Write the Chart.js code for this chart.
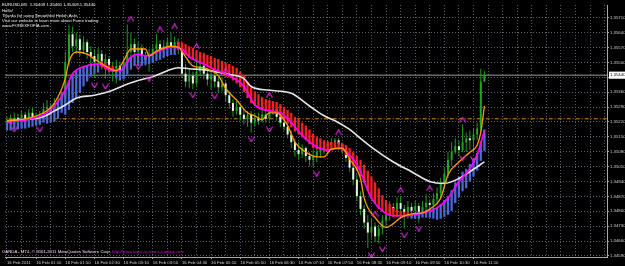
<!DOCTYPE html>
<html><head><meta charset="utf-8">
<script src="https://cdn.jsdelivr.net/npm/chart.js"></script>
<style>
html,body{margin:0;padding:0;background:#000;width:625px;height:266px;overflow:hidden}
#wrap{position:relative;width:625px;height:266px;background:#000}
canvas{position:absolute;left:0;top:0}
.t{position:absolute;font-family:"Liberation Sans",Arial,sans-serif;font-size:4.3px;line-height:5px;color:#f2f2f2;white-space:nowrap}
</style></head><body>
<div id="wrap"><canvas id="c" width="625" height="266"></canvas>
<div class="t" style="left:2px;top:1.5px">EURUSD,M5&nbsp; 1.35409 1.35460 1.35409 1.35440</div>
<div class="t" style="left:2px;top:7.5px">Hello!</div>
<div class="t" style="left:2px;top:13.2px">Thanks for using Smoothed Heikin Ashi.</div>
<div class="t" style="left:2px;top:18.3px">Visit our website to learn more about Forex trading:</div>
<div class="t" style="left:2px;top:23.3px">www.FOREXFOFIA.com</div>
<div class="t" style="left:2px;top:248.5px;color:#f4d8f4">OANDA - MT4, © 2001-2011 MetaQuotes Software Corp.<span style="color:#e000e0">&nbsp;http://www.forex-systems-trading.com</span></div>
</div>
<script>
// ---- categories / ticks ----
const xTickLabels = ['16 Feb 2011','16 Feb 01:10','16 Feb 01:50','16 Feb 02:30','16 Feb 03:10','16 Feb 03:50','16 Feb 04:30','16 Feb 05:10','16 Feb 05:50','16 Feb 06:30','16 Feb 07:10','16 Feb 07:50','16 Feb 08:30','16 Feb 09:10','16 Feb 09:50','16 Feb 10:30','16 Feb 11:10'];
const yTickValues = [1.34590,1.34660,1.34730,1.34800,1.34870,1.34940,1.35010,1.35080,1.35150,1.35220,1.35290,1.35360,1.35430,1.35500,1.35570,1.35640,1.35710];
const bidPrice = 1.35440;
const levelPrice = 1.35235;

// ---- candles (M5 bars) ----
const openP = [1.35208,1.35226,1.35212,1.35240,1.35231,1.35254,1.35235,1.35263,1.35244,1.35226,
1.35254,1.35281,1.35291,1.35272,1.35309,1.35295,1.35332,1.35503,1.35632,1.35576,
1.35609,1.35558,1.35595,1.35549,1.35530,1.35503,1.35540,1.35493,1.35516,1.35475,
1.35457,1.35484,1.35447,1.35503,1.35549,1.35586,1.35549,1.35567,1.35530,1.35512,
1.35540,1.35563,1.35586,1.35558,1.35576,1.35595,1.35576,1.35595,1.35563,1.35447,
1.35410,1.35438,1.35401,1.35457,1.35484,1.35447,1.35420,1.35438,1.35410,1.35383,
1.35401,1.35346,1.35309,1.35272,1.35291,1.35254,1.35235,1.35254,1.35217,1.35240,
1.35226,1.35254,1.35235,1.35272,1.35281,1.35244,1.35217,1.35198,1.35161,1.35125,
1.35088,1.35069,1.35097,1.35060,1.35042,1.35056,1.35079,1.35088,1.35106,1.35115,
1.35125,1.35134,1.35115,1.35088,1.35051,1.35005,1.34949,1.34871,1.34811,1.34747,
1.34700,1.34728,1.34682,1.34719,1.34756,1.34783,1.34820,1.34802,1.34839,1.34811,
1.34793,1.34820,1.34802,1.34825,1.34793,1.34820,1.34839,1.34830,1.34857,1.34885,
1.34930,1.34977,1.35042,1.35079,1.35106,1.35088,1.35125,1.35143,1.35134,1.35161,
1.35189,1.35409];
const highP = [1.35244,1.35254,1.35263,1.35258,1.35272,1.35268,1.35281,1.35286,1.35263,1.35272,
1.35309,1.35323,1.35309,1.35332,1.35337,1.35364,1.35549,1.35678,1.35669,1.35641,
1.35632,1.35622,1.35609,1.35576,1.35563,1.35567,1.35558,1.35539,1.35530,1.35503,
1.35512,1.35503,1.35530,1.35678,1.35641,1.35613,1.35595,1.35586,1.35549,1.35563,
1.35586,1.35632,1.35604,1.35604,1.35618,1.35641,1.35622,1.35613,1.35586,1.35493,
1.35466,1.35457,1.35549,1.35512,1.35503,1.35466,1.35457,1.35457,1.35429,1.35433,
1.35410,1.35364,1.35327,1.35318,1.35309,1.35281,1.35272,1.35272,1.35263,1.35263,
1.35281,1.35291,1.35318,1.35309,1.35300,1.35263,1.35235,1.35217,1.35180,1.35143,
1.35125,1.35115,1.35106,1.35079,1.35088,1.35097,1.35115,1.35125,1.35134,1.35143,
1.35143,1.35143,1.35125,1.35106,1.35069,1.35023,1.34977,1.34894,1.34830,1.34783,
1.34765,1.34747,1.34737,1.34783,1.34811,1.34848,1.34839,1.34866,1.34871,1.34830,
1.34848,1.34839,1.34848,1.34839,1.34848,1.34880,1.34857,1.34885,1.34913,1.34958,
1.35005,1.35079,1.35125,1.35143,1.35134,1.35208,1.35171,1.35180,1.35189,1.35217,
1.35470,1.35460];
const lowP = [1.35194,1.35198,1.35203,1.35212,1.35221,1.35221,1.35226,1.35231,1.35212,1.35203,
1.35244,1.35263,1.35254,1.35263,1.35281,1.35286,1.35318,1.35484,1.35549,1.35539,
1.35530,1.35539,1.35516,1.35484,1.35429,1.35475,1.35466,1.35424,1.35447,1.35410,
1.35401,1.35420,1.35433,1.35484,1.35530,1.35507,1.35521,1.35493,1.35484,1.35457,
1.35516,1.35539,1.35530,1.35539,1.35558,1.35549,1.35558,1.35539,1.35429,1.35383,
1.35378,1.35374,1.35392,1.35438,1.35420,1.35392,1.35374,1.35383,1.35355,1.35364,
1.35318,1.35281,1.35244,1.35254,1.35226,1.35208,1.35198,1.35171,1.35198,1.35208,
1.35217,1.35217,1.35226,1.35254,1.35226,1.35198,1.35180,1.35143,1.35097,1.35056,
1.35042,1.35051,1.35032,1.35014,1.35009,1.35032,1.35051,1.35069,1.35078,1.35088,
1.35097,1.35088,1.35069,1.35032,1.34986,1.34922,1.34848,1.34783,1.34719,1.34627,
1.34673,1.34654,1.34650,1.34691,1.34728,1.34756,1.34774,1.34783,1.34793,1.34719,
1.34765,1.34774,1.34783,1.34747,1.34774,1.34802,1.34802,1.34811,1.34830,1.34857,
1.34903,1.34959,1.35014,1.35069,1.35065,1.35078,1.35078,1.35088,1.35078,1.35134,
1.35171,1.35409];
const closeP = [1.35226,1.35212,1.35240,1.35231,1.35254,1.35235,1.35263,1.35244,1.35226,1.35254,
1.35281,1.35291,1.35272,1.35309,1.35295,1.35332,1.35503,1.35632,1.35576,1.35609,
1.35558,1.35595,1.35549,1.35530,1.35503,1.35540,1.35493,1.35516,1.35475,1.35457,
1.35484,1.35447,1.35503,1.35549,1.35586,1.35549,1.35567,1.35530,1.35512,1.35540,
1.35563,1.35586,1.35558,1.35576,1.35595,1.35576,1.35595,1.35563,1.35447,1.35410,
1.35438,1.35401,1.35457,1.35484,1.35447,1.35420,1.35438,1.35410,1.35383,1.35401,
1.35346,1.35309,1.35272,1.35291,1.35254,1.35235,1.35254,1.35217,1.35240,1.35226,
1.35254,1.35235,1.35272,1.35281,1.35244,1.35217,1.35198,1.35161,1.35125,1.35088,
1.35069,1.35097,1.35060,1.35042,1.35056,1.35079,1.35088,1.35106,1.35115,1.35125,
1.35134,1.35115,1.35088,1.35051,1.35005,1.34949,1.34871,1.34811,1.34747,1.34700,
1.34728,1.34682,1.34719,1.34756,1.34783,1.34820,1.34802,1.34839,1.34811,1.34793,
1.34820,1.34802,1.34825,1.34793,1.34820,1.34839,1.34830,1.34857,1.34885,1.34930,
1.34977,1.35042,1.35079,1.35106,1.35088,1.35125,1.35143,1.35134,1.35161,1.35189,
1.35410,1.35440];

// ---- smoothed Heikin Ashi bodies ----
const haOpen = [1.35180,1.35180,1.35185,1.35185,1.35189,1.35189,1.35194,1.35198,1.35203,1.35208,
1.35217,1.35212,1.35217,1.35221,1.35235,1.35263,1.35254,1.35277,1.35309,1.35332,
1.35360,1.35387,1.35410,1.35433,1.35447,1.35452,1.35507,1.35498,1.35489,1.35484,
1.35424,1.35415,1.35420,1.35443,1.35466,1.35484,1.35484,1.35484,1.35489,1.35493,
1.35498,1.35507,1.35512,1.35521,1.35530,1.35535,1.35535,1.35599,1.35595,1.35586,
1.35576,1.35567,1.35558,1.35549,1.35544,1.35535,1.35530,1.35521,1.35516,1.35507,
1.35498,1.35493,1.35484,1.35475,1.35457,1.35438,1.35410,1.35383,1.35364,1.35350,
1.35337,1.35327,1.35323,1.35318,1.35314,1.35304,1.35291,1.35277,1.35263,1.35244,
1.35231,1.35217,1.35203,1.35185,1.35166,1.35152,1.35143,1.35134,1.35129,1.35125,
1.35125,1.35125,1.35120,1.35111,1.35097,1.35078,1.35060,1.35042,1.35019,1.34991,
1.34963,1.34936,1.34908,1.34876,1.34853,1.34834,1.34816,1.34807,1.34802,1.34797,
1.34797,1.34765,1.34765,1.34765,1.34770,1.34770,1.34770,1.34765,1.34760,1.34765,
1.34774,1.34783,1.34802,1.34839,1.34866,1.34894,1.34908,1.34940,1.34963,1.34991,
1.35037,1.35083];
const haClose = [1.35217,1.35217,1.35221,1.35221,1.35226,1.35226,1.35231,1.35235,1.35240,1.35244,
1.35254,1.35268,1.35281,1.35295,1.35318,1.35355,1.35383,1.35415,1.35447,1.35461,
1.35475,1.35480,1.35484,1.35489,1.35493,1.35489,1.35475,1.35466,1.35457,1.35457,
1.35461,1.35461,1.35484,1.35507,1.35526,1.35539,1.35535,1.35530,1.35530,1.35535,
1.35539,1.35549,1.35553,1.35563,1.35572,1.35572,1.35567,1.35558,1.35549,1.35535,
1.35521,1.35512,1.35503,1.35493,1.35489,1.35480,1.35470,1.35461,1.35452,1.35443,
1.35433,1.35429,1.35415,1.35401,1.35383,1.35360,1.35332,1.35309,1.35295,1.35286,
1.35277,1.35272,1.35268,1.35263,1.35258,1.35244,1.35231,1.35212,1.35194,1.35175,
1.35161,1.35148,1.35134,1.35115,1.35097,1.35092,1.35088,1.35083,1.35083,1.35088,
1.35092,1.35092,1.35083,1.35065,1.35042,1.35014,1.34991,1.34963,1.34936,1.34899,
1.34862,1.34839,1.34811,1.34797,1.34788,1.34779,1.34774,1.34774,1.34774,1.34774,
1.34779,1.34788,1.34793,1.34797,1.34802,1.34807,1.34811,1.34816,1.34820,1.34834,
1.34853,1.34871,1.34899,1.34936,1.34963,1.34986,1.35000,1.35023,1.35046,1.35074,
1.35129,1.35185];

// ---- moving-average style lines (bar index, price) ----
const orangeX = [0,5,10,13,16,17,19,22,24,27,30,32,34,38,39,41,45,47,49,51,54,56,58,60,63,66,68,70,72,74,77,79,82,85,87,89,92,94,97,98,101,104,106,108,111,114,116,119,121,124,127,129,130,131];
const orangeY = [1.35226,1.35235,1.35263,1.35309,1.35424,1.35503,1.35549,1.35539,1.35516,1.35484,1.35461,1.35507,1.35563,1.35563,1.35530,1.35553,1.35576,1.35572,1.35526,1.35484,1.35475,1.35461,1.35438,1.35378,1.35323,1.35263,1.35249,1.35231,1.35263,1.35263,1.35203,1.35125,1.35078,1.35056,1.35056,1.35092,1.35097,1.35046,1.34954,1.34862,1.34770,1.34724,1.34742,1.34770,1.34788,1.34793,1.34811,1.34862,1.34972,1.35032,1.35078,1.35111,1.35171,1.35295];
const magentaX = [0,10,13,16,18,21,25,29,31,34,36,38,41,45,48,50,54,57,61,65,68,72,75,78,81,85,88,91,94,97,98,100,103,106,109,113,116,118,121,124,127,129,131];
const magentaY = [1.35217,1.35254,1.35295,1.35369,1.35447,1.35480,1.35493,1.35461,1.35461,1.35526,1.35539,1.35530,1.35549,1.35572,1.35563,1.35526,1.35493,1.35466,1.35438,1.35387,1.35300,1.35272,1.35263,1.35217,1.35157,1.35102,1.35088,1.35097,1.35065,1.34986,1.34940,1.34862,1.34802,1.34779,1.34779,1.34788,1.34802,1.34816,1.34862,1.34940,1.35000,1.35065,1.35180];
const whiteX = [0,5,10,13,16,19,24,29,32,36,40,44,47,50,54,57,61,65,67,72,78,83,87,90,94,96,100,106,111,116,120,124,127,131];
const whiteY = [1.35226,1.35231,1.35244,1.35272,1.35300,1.35332,1.35346,1.35369,1.35392,1.35415,1.35433,1.35461,1.35475,1.35470,1.35466,1.35457,1.35443,1.35424,1.35387,1.35369,1.35355,1.35295,1.35249,1.35226,1.35185,1.35157,1.35102,1.35032,1.34986,1.34940,1.34931,1.34954,1.34986,1.35032];

// ---- signal arrows ----
const upArrowX = [34,42,46,52,60,72,91,101,108,116,125];
const upArrowY = [1.35705,1.35655,1.35669,1.35576,1.35461,1.35346,1.35171,1.34788,1.34899,1.34908,1.35231];
const downArrowX = [2,9,24,27,36,39,51,57,67,72,85,100,103,109,113,125,128];
const downArrowY = [1.35185,1.35185,1.35392,1.35387,1.35480,1.35424,1.35346,1.35341,1.35138,1.35185,1.34977,1.34594,1.34622,1.34687,1.34719,1.35051,1.35046];

// ---- build ----
const barIdx = openP.map((_, i) => i);
const pts = (xs, ys) => xs.map((x, k) => ({x: x, y: ys[k]}));
function chevron(up) {
  const c = document.createElement('canvas'); c.width = 7; c.height = 6;
  const g = c.getContext('2d'); g.strokeStyle = '#dc22dc'; g.lineWidth = 1.2;
  g.beginPath();
  if (up) { g.moveTo(0.5,5.5); g.lineTo(3.5,0.6); g.lineTo(6.5,5.5); }
  else { g.moveTo(0.5,0.5); g.lineTo(3.5,5.4); g.lineTo(6.5,0.5); }
  g.stroke(); return c;
}
const near = (a, b) => Math.abs(a - b) < 1e-7;
const axisFont = {family: 'Liberation Sans', size: 4.3};

new Chart(document.getElementById('c'), {
  type: 'bar',
  data: { datasets: [
    {type:'scatter', data: pts(upArrowX, upArrowY), pointStyle: chevron(true), pointRadius: 3, order: 0},
    {type:'scatter', data: pts(downArrowX, downArrowY), pointStyle: chevron(false), pointRadius: 3, order: 0},
    {type:'line', data: pts(orangeX, orangeY), borderColor:'#ff9a00', borderWidth:1.3, pointRadius:0, cubicInterpolationMode:'monotone', order: 1},
    {type:'line', data: pts(magentaX, magentaY), borderColor:'#ff00ff', borderWidth:1.7, pointRadius:0, cubicInterpolationMode:'monotone', order: 2},
    {type:'line', data: pts(whiteX, whiteY), borderColor:'#e6e6e6', borderWidth:1.6, pointRadius:0, cubicInterpolationMode:'monotone', order: 3},
    {type:'bar', data: barIdx.map(i => ({x:i, y:[haOpen[i], haClose[i]]})), grouped:false, barThickness:2.3, inflateAmount:0, minBarLength:1,
      backgroundColor: barIdx.map(i => haClose[i] > haOpen[i] ? '#4a68d6' : '#f42020'), order: 4},
    {type:'bar', data: barIdx.map(i => ({x:i, y:[openP[i], closeP[i]]})), grouped:false, barThickness:2, inflateAmount:0, minBarLength:1,
      backgroundColor: barIdx.map(i => closeP[i] < openP[i] ? '#e4f6e4' : '#22a522'), order: 5},
    {type:'bar', data: barIdx.map(i => ({x:i, y:[lowP[i], highP[i]]})), grouped:false, barThickness:1, inflateAmount:0,
      backgroundColor:'#1a9c1a', order: 6},
    {type:'line', data: [{x:-2, y:bidPrice},{x:170, y:bidPrice}], borderColor:'#9c9c9c', borderWidth:1, pointRadius:0, order: 7},
    {type:'line', data: [{x:-2, y:levelPrice},{x:170, y:levelPrice}], borderColor:'#d98a00', borderWidth:1, borderDash:[4,2,1,2], pointRadius:0, order: 7}
  ]},
  options: {
    responsive:false, animation:false, events:[],
    layout:{padding:0},
    plugins:{legend:{display:false}, tooltip:{enabled:false}},
    scales: {
      x: {
        type:'linear', min:-0.544, max:164.63, offset:false,
        afterBuildTicks: s => { const t = []; for (let v = 0; v <= 164; v += 4) t.push({value:v}); s.ticks = t; },
        afterFit: s => { s.height = 9; s.paddingLeft = 0; s.paddingRight = 0; },
        ticks: { autoSkip:false, maxRotation:0, minRotation:0, align:'start', padding:1, color:'#d0d0d0', font:axisFont,
          callback: v => (v % 8 === 0 && xTickLabels[v / 8]) ? xTickLabels[v / 8] : '' },
        grid: { offset:false, color:'#56606c', lineWidth:1, drawTicks:true, tickLength:2,
          tickColor: c => (c.tick && c.tick.value % 8 === 0 && c.tick.value <= 128) ? '#a8a8a8' : 'rgba(0,0,0,0)' },
        border: { display:true, color:'#a8a8a8', width:1, dash:[1,2] }
      },
      y: {
        type:'linear', position:'right', min:1.34585, max:1.35770,
        afterBuildTicks: s => { s.ticks = yTickValues.concat([bidPrice]).map(v => ({value:v})); },
        afterFit: s => { s.width = 18; s.paddingTop = 0; s.paddingBottom = 0; },
        ticks: { autoSkip:false, padding:1, font:axisFont,
          color: c => near(c.tick.value, bidPrice) ? '#000' : '#d0d0d0',
          showLabelBackdrop: c => near(c.tick.value, bidPrice),
          backdropColor:'#ffffff', backdropPadding:{top:1,bottom:1,left:1,right:2},
          callback: v => v.toFixed(5) },
        grid: { color: c => (c.tick && near(c.tick.value, bidPrice)) ? 'rgba(0,0,0,0)' : '#56606c', lineWidth:1, drawTicks:true, tickLength:2,
          tickColor: c => (c.tick && near(c.tick.value, bidPrice)) ? 'rgba(0,0,0,0)' : '#a8a8a8' },
        border: { display:true, color:'#a8a8a8', width:1, dash:[1,2] }
      }
    }
  }
});
</script>
</body></html>
